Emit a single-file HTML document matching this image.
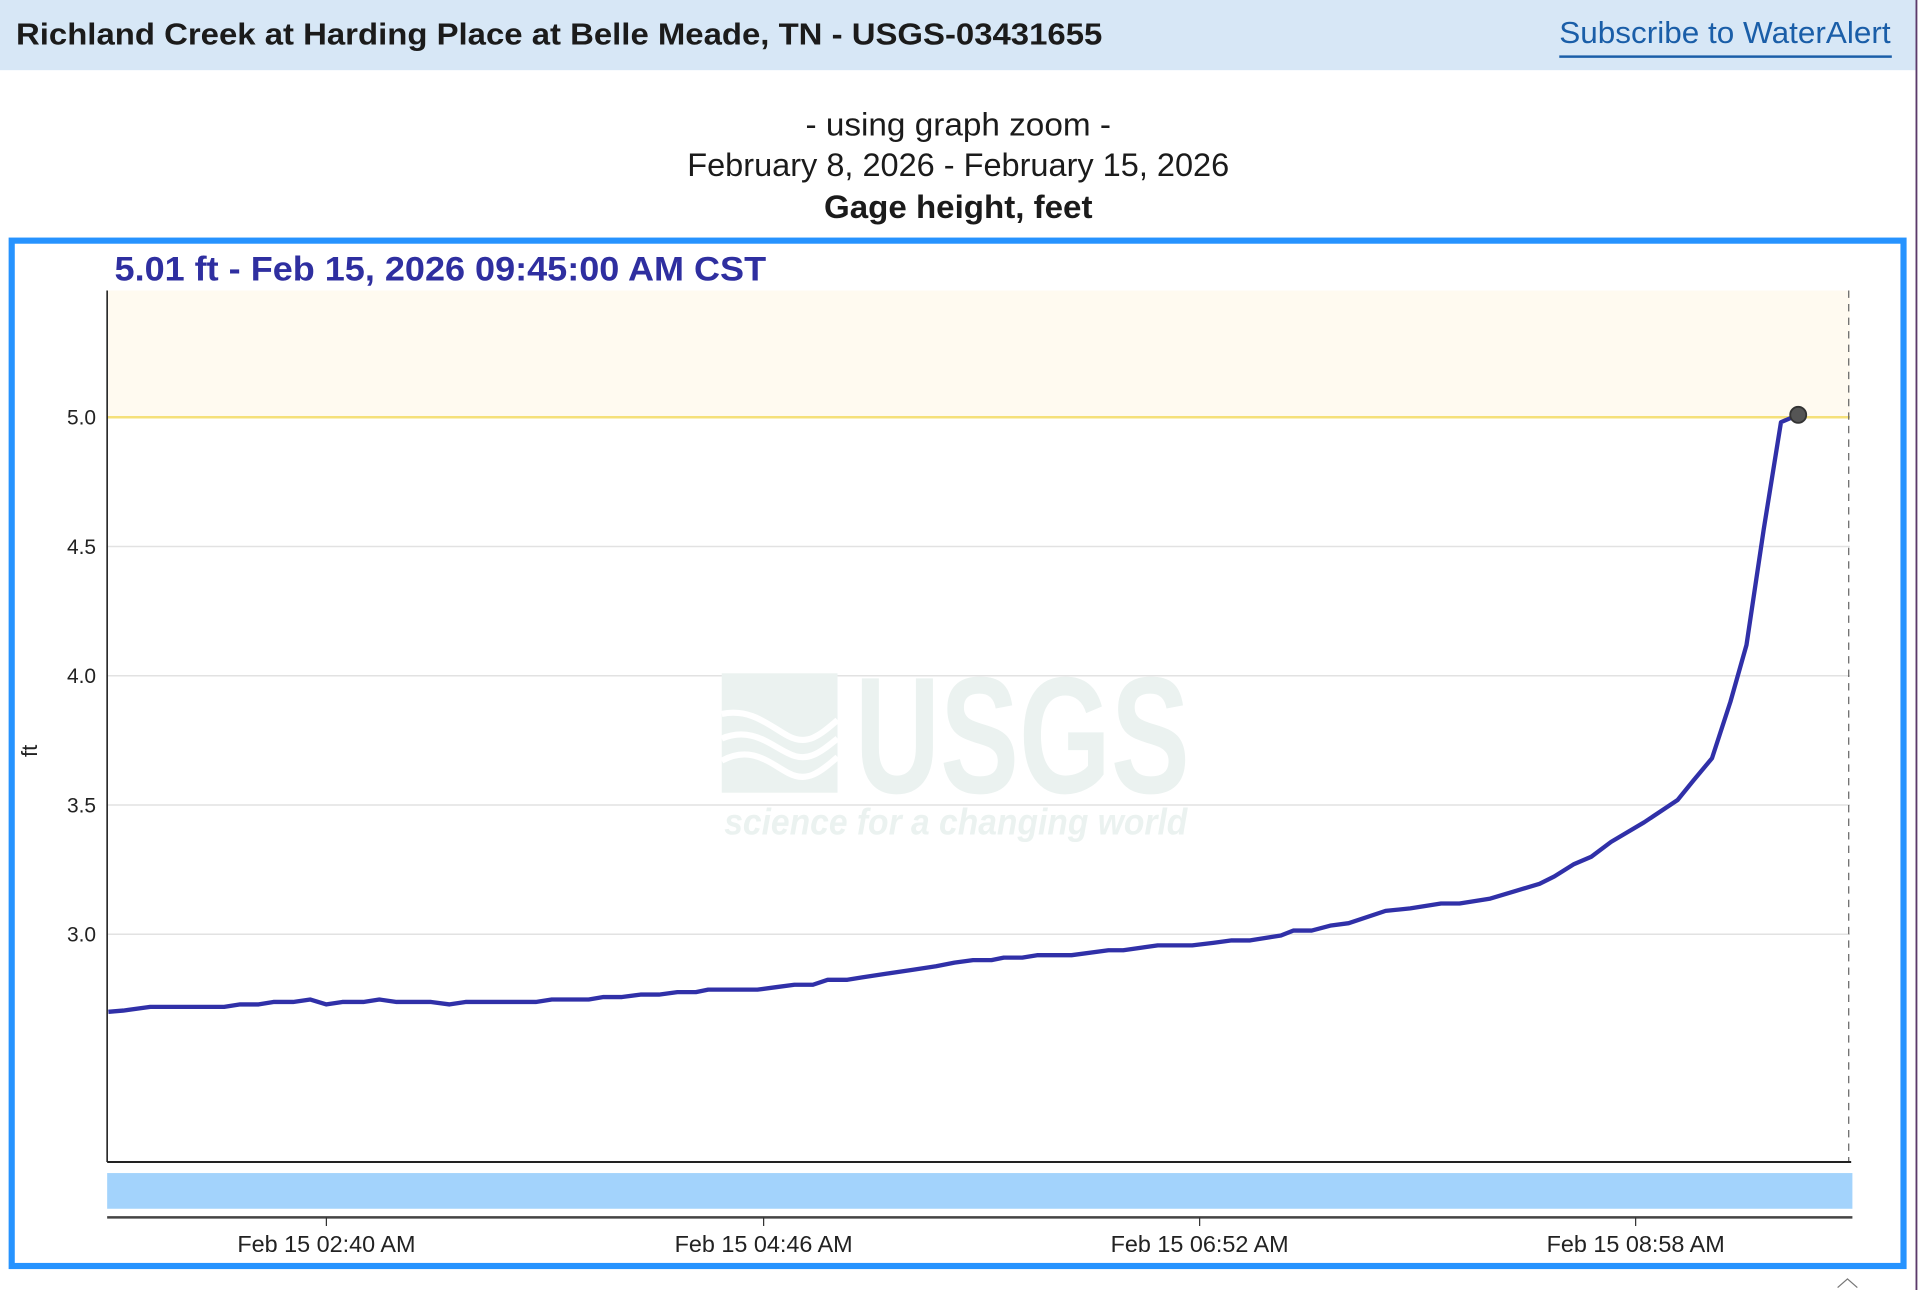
<!DOCTYPE html>
<html><head><meta charset="utf-8"><style>
html,body{margin:0;padding:0;background:#fff;}
svg{display:block;}
</style></head><body>
<svg width="1930" height="1290" viewBox="0 0 1567 1048" preserveAspectRatio="none" xmlns="http://www.w3.org/2000/svg" font-family="Liberation Sans, sans-serif">
<rect x="0" y="0" width="1556" height="57" fill="#d7e7f6"/>
<line x1="1556" y1="0" x2="1556" y2="1048" stroke="#5b3a6a" stroke-width="1.5"/>
<text x="13" y="36" font-size="25" font-weight="bold" fill="#1b1b1b" textLength="882" lengthAdjust="spacingAndGlyphs">Richland Creek at Harding Place at Belle Meade, TN - USGS-03431655</text>
<text x="1266" y="35" font-size="25" fill="#1a5ea8" textLength="269" lengthAdjust="spacingAndGlyphs">Subscribe to WaterAlert</text>
<rect x="1266" y="45" width="270" height="2" fill="#1a5ea8"/>
<text x="778" y="110" font-size="26" fill="#1b1b1b" text-anchor="middle" textLength="248" lengthAdjust="spacingAndGlyphs">- using graph zoom -</text>
<text x="778" y="143" font-size="26" fill="#1b1b1b" text-anchor="middle" textLength="440" lengthAdjust="spacingAndGlyphs">February 8, 2026 - February 15, 2026</text>
<text x="778" y="177" font-size="26" font-weight="bold" fill="#1b1b1b" text-anchor="middle" textLength="218" lengthAdjust="spacingAndGlyphs">Gage height, feet</text>
<rect x="9.5" y="195.5" width="1536" height="833" fill="none" stroke="#2693ff" stroke-width="5"/>
<text x="93" y="228" font-size="28" font-weight="bold" fill="#2f2fa0" textLength="529" lengthAdjust="spacingAndGlyphs">5.01 ft - Feb 15, 2026 09:45:00 AM CST</text>
<rect x="87" y="236" width="1415" height="103" fill="#fffaf0"/>
<g stroke="#e2e2e2" stroke-width="1.2">
<line x1="87" y1="444" x2="1502" y2="444"/><line x1="87" y1="549" x2="1502" y2="549"/>
<line x1="87" y1="654" x2="1502" y2="654"/><line x1="87" y1="759" x2="1502" y2="759"/>
</g>
<g fill="#ebf2f0">
<rect x="586" y="547" width="94" height="97"/>
<text x="694" y="644" font-size="135" font-weight="bold" textLength="272" lengthAdjust="spacingAndGlyphs">USGS</text>
<text x="588" y="678" font-size="30" font-weight="bold" font-style="italic" textLength="376" lengthAdjust="spacingAndGlyphs">science for a changing world</text>
</g>
<g fill="none" stroke="#fff" stroke-width="5">
<path d="M586 580 C610 575,625 590,640 598 C655 606,665 598,680 585"/>
<path d="M586 600 C610 590,625 605,640 612 C655 620,665 612,680 600"/>
<path d="M586 618 C610 605,625 620,640 628 C655 636,665 628,680 615"/>
</g>
<line x1="87" y1="339" x2="1502" y2="339" stroke="#f5e07a" stroke-width="2"/>
<line x1="1501" y1="236" x2="1501" y2="944" stroke="#666" stroke-width="1" stroke-dasharray="6,5"/>
<line x1="87" y1="236" x2="87" y2="944" stroke="#222" stroke-width="1.3"/>
<line x1="87" y1="944" x2="1503" y2="944" stroke="#222" stroke-width="1.6"/>
<g font-size="17" fill="#222" text-anchor="end">
<text x="78" y="345">5.0</text><text x="78" y="450">4.5</text><text x="78" y="555">4.0</text><text x="78" y="660">3.5</text><text x="78" y="765">3.0</text>
</g>
<text transform="translate(30,610) rotate(-90)" font-size="18" fill="#222" text-anchor="middle">ft</text>
<polyline fill="none" stroke="#3030a8" stroke-width="3.5" stroke-linejoin="round" points="88,822 100,821 122,818 182,818 195,816 210,816 222,814 238,814 252,812 265,816 278,814 295,814 308,812 322,814 350,814 365,816 378,814 435,814 448,812 478,812 490,810 505,810 520,808 535,808 550,806 565,806 575,804 615,804 630,802 645,800 660,800 672,796 688,796 700,794 720,791 740,788 760,785 775,782 790,780 805,780 815,778 830,778 842,776 870,776 900,772 912,772 940,768 968,768 985,766 1000,764 1015,764 1040,760 1050,756 1065,756 1080,752 1095,750 1125,740 1145,738 1170,734 1185,734 1210,730 1230,724 1250,718 1262,712 1278,702 1292,696 1308,684 1335,668 1350,658 1362,650 1375,634 1390,616 1405,570 1418,524 1432,430 1446,343 1460,337"/>
<circle cx="1460" cy="337" r="6.5" fill="#555" stroke="#333" stroke-width="1.5"/>
<rect x="87" y="953" width="1417" height="29" fill="#a3d3fc"/>
<line x1="87" y1="989" x2="1504" y2="989" stroke="#444" stroke-width="2"/>
<g stroke="#333" stroke-width="1"><line x1="265" y1="989" x2="265" y2="996"/><line x1="620" y1="989" x2="620" y2="996"/><line x1="974" y1="989" x2="974" y2="996"/><line x1="1328" y1="989" x2="1328" y2="996"/></g>
<g font-size="19" fill="#222" text-anchor="middle">
<text x="265" y="1017">Feb 15 02:40 AM</text><text x="620" y="1017">Feb 15 04:46 AM</text><text x="974" y="1017">Feb 15 06:52 AM</text><text x="1328" y="1017">Feb 15 08:58 AM</text>
</g>
<path d="M1492 1046 L1500 1039 L1508 1046" fill="none" stroke="#777" stroke-width="1"/>
</svg>
</body></html>
